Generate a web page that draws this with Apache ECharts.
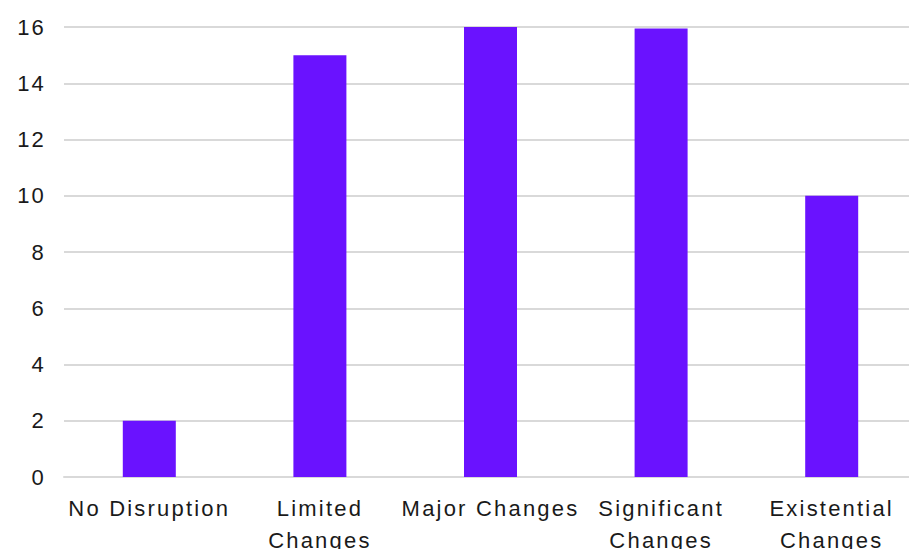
<!DOCTYPE html>
<html>
<head>
<meta charset="utf-8">
<script src="https://cdn.jsdelivr.net/npm/echarts@6/dist/echarts.min.js"></script>
<style>
  html, body { margin: 0; padding: 0; background: #ffffff; }
  #chart { width: 909px; height: 549px; }
  /* slightly open tracking on all chart text */
  #chart svg text { letter-spacing: 2.2px; }
</style>
</head>
<body>
<div id="chart"></div>
<script>
// Level of disruption categories and response counts
const categories = ['No Disruption', 'Limited Changes', 'Major Changes', 'Significant Changes', 'Existential Changes'];
const tickLabels = ['No Disruption', 'Limited\nChanges', 'Major Changes', 'Significant\nChanges', 'Existential\nChanges'];
const counts = [2, 15, 16, 15.95, 10];
const yTicks = { min: 0, max: 16, interval: 2 };

const chart = echarts.init(document.getElementById('chart'), null, { renderer: 'svg' });
const fontFamily = '"Liberation Sans", Arial, Helvetica, sans-serif';

chart.setOption({
  animation: false,
  backgroundColor: '#ffffff',
  grid: { left: 64, top: 27, width: 853, height: 450, containLabel: false, outerBoundsMode: 'none' },
  xAxis: {
    type: 'category',
    data: categories,
    axisLine: { show: true, lineStyle: { color: '#d9d9d9', width: 2 } },
    axisTick: { show: false },
    axisLabel: {
      interval: 0,
      margin: 16,
      color: '#1a1a1a',
      fontSize: 22,
      lineHeight: 31.5,
      fontFamily: fontFamily,
      formatter: (value, idx) => tickLabels[idx]
    }
  },
  yAxis: {
    type: 'value',
    min: yTicks.min,
    max: yTicks.max,
    interval: yTicks.interval,
    axisLine: { show: false },
    axisTick: { show: false },
    splitLine: { show: true, lineStyle: { color: '#d9d9d9', width: 2 } },
    axisLabel: {
      margin: 18,
      color: '#1a1a1a',
      fontSize: 22,
      fontFamily: fontFamily
    }
  },
  series: [{
    type: 'bar',
    data: counts,
    barWidth: 53,
    itemStyle: { color: '#6a12ff' }
  }]
});
</script>
</body>
</html>
